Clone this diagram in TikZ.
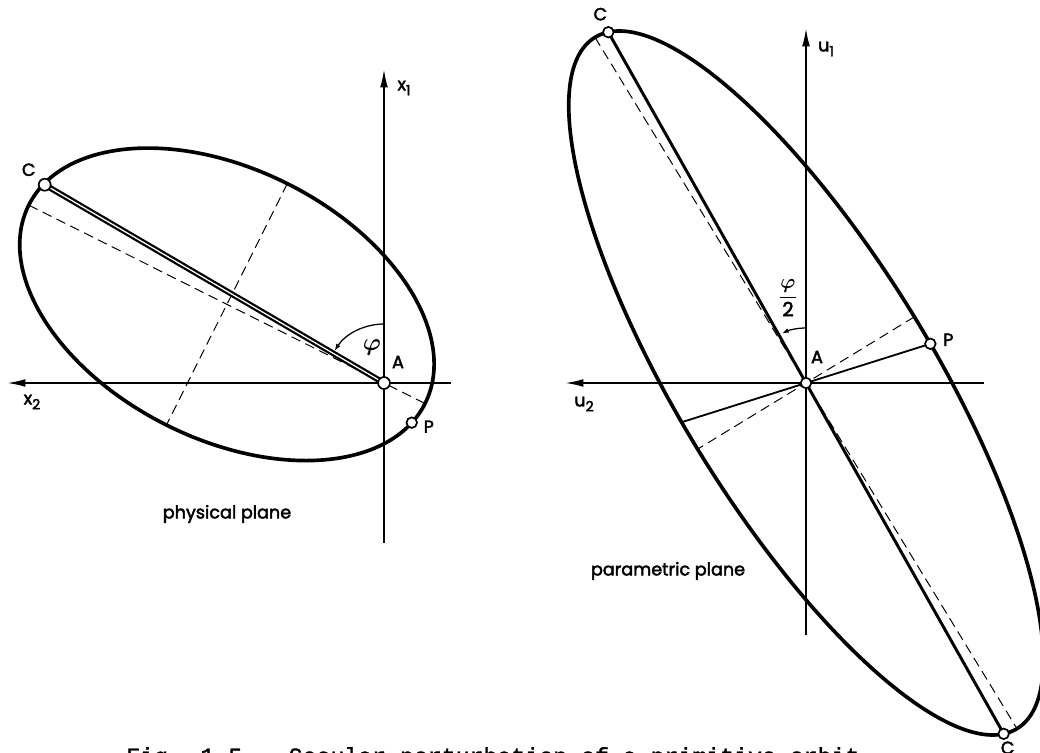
\documentclass[tikz,border=0pt]{standalone}
\usepackage{amsmath,amssymb}
\usepackage{fontspec}
\setmainfont{Poppins}
\newfontfamily\lblfont{Poppins}[FakeBold=2.5]
\newfontfamily\capfont{Liberation Mono}[FakeBold=1.5]
\usetikzlibrary{arrows.meta,calc}
\newcommand{\sbs}[1]{\raisebox{-3.5pt}{\fontsize{10}{12}\selectfont#1}}

\begin{document}
\begin{tikzpicture}[x=0.025cm,y=0.025cm,>={Latex[length=13pt,width=5.5pt]},
  orbit/.style={line width=2.6pt},
  axisline/.style={line width=1.3pt},
  aux/.style={line width=0.7pt,dash pattern=on 7pt off 4pt},
  ptcirc/.style={circle,draw,fill=white,line width=1.2pt,inner sep=0pt,minimum size=8.5pt},
  lbl/.style={font=\lblfont\fontsize{12.5}{14}\selectfont},
  arcarrow/.style={line width=0.9pt,-{Latex[length=5pt,width=3.5pt]}}]
\useasboundingbox (0,0) rectangle (1040,752);
% physical plane
\coordinate (A) at (384,369);
\draw[axisline,->] (451,369)--(7,369);
\draw[axisline,->] (384,209)--(384,683);
\begin{scope}[shift={(A)},rotate=-26.6]
\draw[orbit] (-175.7,0) ellipse (221.6 and 135);
\draw[aux] (-397.3,0)--(45.9,0);
\draw[aux] (-175.7,135)--(-175.7,-135);
\coordinate (C) at (176.3:393);
\coordinate (P) at (-28.4:48.4);
\end{scope}
\draw[line width=1.6pt,double,double distance=0.9pt] (C)--(A);
\draw[arcarrow] (A) ++(90:59) arc (90:147:59);
\node[ptcirc] (nA) at (A) {};
\node[ptcirc] (nC) at (C) {};
\node[ptcirc,minimum size=7.5pt] (nP) at (P) {};
\node[lbl] (labA) at ($(A)+(14,21)$) {A};
\node[lbl] (labC) at ($(C)+(-16,15)$) {C};
\node[lbl] (labP) at ($(P)+(17,-4)$) {P};
\node[lbl] (labx1) at (404,664) {x\sbs{1}};
\node[lbl] (labx2) at (32,350) {x\sbs{2}};
\node[font=\fontsize{16}{18}\selectfont] (phi) at (372,405) {$\boldsymbol{\varphi}$};
\node[lbl] (phys) at (227,238) {physical plane};
% parametric plane
\coordinate (A2) at (806,369);
\draw[axisline,->] (984,369)--(565,369);
\draw[axisline,->] (806,117)--(806,724);
\begin{scope}[shift={(A2)},rotate=-58.6]
\draw[orbit] (0,0) ellipse (405 and 127);
\draw[aux] (-405,0)--(405,0);
\draw[aux] (0,127)--(0,-127);
\coordinate (C2) at (178:402.7);
\coordinate (C3) at (-2:402.7);
\coordinate (P2) at (76.1:130.4);
\coordinate (Q2) at (-103.9:130.4);
\end{scope}
\draw[line width=2.1pt] (C2)--(C3);
\draw[line width=1.3pt] (Q2)--(P2);
\draw[arcarrow] (A2) ++(90:55) arc (90:116:55);
\node[ptcirc,minimum size=7.5pt] (nA2) at (A2) {};
\node[ptcirc,minimum size=7.5pt] (nC2) at (C2) {};
\node[ptcirc,minimum size=7.5pt] (nC3) at (C3) {};
\node[ptcirc,minimum size=7.5pt] (nP2) at (P2) {};
\node[lbl] (labA2) at ($(A2)+(11,26)$) {A};
\node[lbl] (labC2) at ($(C2)+(-8,18)$) {C};
\node[lbl] (labC3) at ($(C3)+(4,-14)$) {C};
\node[lbl] (labP2) at ($(P2)+(18,4)$) {P};
\node[lbl] (labu1) at (826,703) {u\sbs{1}};
\node[lbl] (labu2) at (584,348) {u\sbs{2}};
\node[font=\lblfont\fontsize{14}{16}\selectfont] (half) at (788,454) {$\dfrac{\boldsymbol{\varphi}}{\text{2}}$};
\node[lbl] (param) at (668,181) {parametric plane};
\node[anchor=base west,inner sep=0pt,font=\capfont\fontsize{16.5}{18}\selectfont] (cap) at (126,-12) {Fig. 1.5.~ Secular perturbation of a primitive orbit};
\end{tikzpicture}
\end{document}
